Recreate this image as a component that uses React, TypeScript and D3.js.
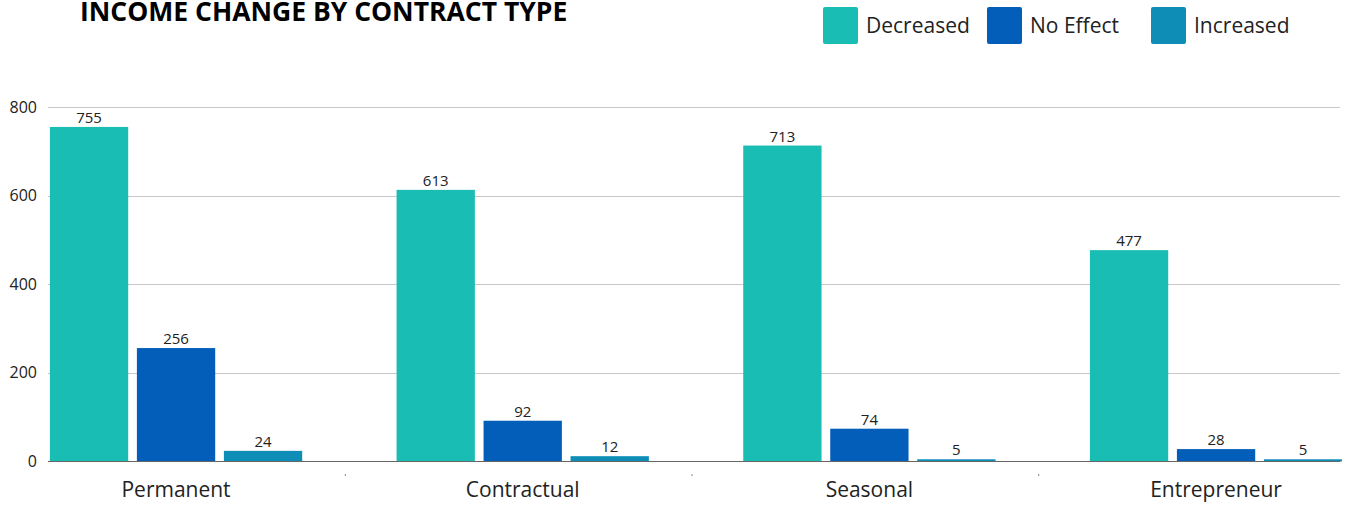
import * as d3 from "d3";
import { useRef, useEffect } from "react";

const WIDTH = 1345;
const HEIGHT = 506;

const categories = ["Permanent", "Contractual", "Seasonal", "Entrepreneur"];
const seriesNames = ["Decreased", "No Effect", "Increased"];
const decreased = [755, 613, 713, 477];
const noEffect = [256, 92, 74, 28];
const increased = [24, 12, 5, 5];
const yTicks = [0, 200, 400, 600, 800];

const COLORS = ["#19bdb3", "#025eb9", "#0e8db7"];
const FONT = "'Open Sans', 'Noto Sans', sans-serif";

const PLOT = { left: 48, right: 1340, top: 107, bottom: 461.5 };

export default function App() {
  const svgRef = useRef(null);

  useEffect(() => {
    const svg = d3.select(svgRef.current);
    svg.selectAll("*").remove();

    const values = [decreased, noEffect, increased];

    const yScale = d3.scaleLinear().domain([0, 800]).range([PLOT.bottom, PLOT.top]);

    // outer band is wider than the plot, the plot clips it
    const x0 = d3.scaleBand().domain(categories).range([2.7, 1389.4]).padding(0);
    const x1 = d3
      .scaleBand()
      .domain(seriesNames)
      .range([-130.5, 130.5])
      .paddingInner(0.1)
      .paddingOuter(0.05);

    svg
      .append("defs")
      .append("clipPath")
      .attr("id", "plot-clip")
      .append("rect")
      .attr("x", PLOT.left)
      .attr("y", 0)
      .attr("width", PLOT.right - PLOT.left + 2)
      .attr("height", HEIGHT);

    // Grid
    svg
      .append("g")
      .selectAll("line")
      .data(yTicks.filter((d) => d > 0))
      .enter()
      .append("line")
      .attr("x1", PLOT.left)
      .attr("x2", PLOT.right)
      .attr("y1", (d) => Math.round(yScale(d)) + 0.5)
      .attr("y2", (d) => Math.round(yScale(d)) + 0.5)
      .attr("stroke", "#c8c8c8")
      .attr("stroke-width", 1);

    // Y labels
    svg
      .append("g")
      .selectAll("text")
      .data(yTicks)
      .enter()
      .append("text")
      .attr("x", 37)
      .attr("y", (d) => yScale(d))
      .attr("dy", "0.35em")
      .attr("text-anchor", "end")
      .style("font-family", FONT)
      .style("font-size", "16px")
      .attr("fill", "#222")
      .text((d) => d);

    // Bars
    const plot = svg.append("g").attr("clip-path", "url(#plot-clip)");
    const groups = plot
      .selectAll(".group")
      .data(categories)
      .enter()
      .append("g")
      .attr("transform", (d) => `translate(${x0(d) + x0.bandwidth() / 2},0)`);

    groups
      .selectAll("rect")
      .data((d, i) => seriesNames.map((s, j) => ({ s, v: values[j][i], j })))
      .enter()
      .append("rect")
      .attr("x", (d) => x1(d.s))
      .attr("y", (d) => yScale(d.v))
      .attr("width", x1.bandwidth())
      .attr("height", (d) => PLOT.bottom - yScale(d.v))
      .attr("fill", (d) => COLORS[d.j]);

    groups
      .selectAll("text")
      .data((d, i) => seriesNames.map((s, j) => ({ s, v: values[j][i] })))
      .enter()
      .append("text")
      .attr("x", (d) => x1(d.s) + x1.bandwidth() / 2)
      .attr("y", (d) => yScale(d.v) - 4)
      .attr("text-anchor", "middle")
      .style("font-family", FONT)
      .style("font-size", "15px")
      .attr("fill", "#222")
      .text((d) => d.v);

    // Baseline
    svg
      .append("line")
      .attr("x1", PLOT.left)
      .attr("x2", PLOT.right)
      .attr("y1", PLOT.bottom)
      .attr("y2", PLOT.bottom)
      .attr("stroke", "#666")
      .attr("stroke-width", 1.2);

    // small ticks between categories
    svg
      .append("g")
      .selectAll("line")
      .data(categories.slice(1))
      .enter()
      .append("line")
      .attr("x1", (d) => x0(d) - 4)
      .attr("x2", (d) => x0(d) - 4)
      .attr("y1", 474)
      .attr("y2", 476)
      .attr("stroke", "#888");

    // Category labels
    svg
      .append("g")
      .selectAll("text")
      .data(categories)
      .enter()
      .append("text")
      .attr("x", (d) => x0(d) + x0.bandwidth() / 2)
      .attr("y", 497)
      .attr("text-anchor", "middle")
      .style("font-family", FONT)
      .style("font-size", "21px")
      .attr("fill", "#222")
      .text((d) => d);

    // Title
    svg
      .append("text")
      .attr("x", 80)
      .attr("y", 21)
      .style("font-family", FONT)
      .style("font-size", "26.5px")
      .style("font-weight", "bold")
      .attr("fill", "#000")
      .text("INCOME CHANGE BY CONTRACT TYPE");

    // Legend
    const legendX = [823, 987, 1151];
    const legend = svg
      .append("g")
      .selectAll("g")
      .data(seriesNames)
      .enter()
      .append("g")
      .attr("transform", (d, i) => `translate(${legendX[i]},7)`);
    legend
      .append("rect")
      .attr("width", 35)
      .attr("height", 37)
      .attr("rx", 2)
      .attr("fill", (d, i) => COLORS[i]);
    legend
      .append("text")
      .attr("x", 43)
      .attr("y", 25.5)
      .style("font-family", FONT)
      .style("font-size", "21px")
      .attr("fill", "#222")
      .text((d) => d);
  }, []);

  return (
    <svg
      ref={svgRef}
      width={WIDTH}
      height={HEIGHT}
      style={{ position: "absolute", left: 0, top: 0 }}
    />
  );
}
